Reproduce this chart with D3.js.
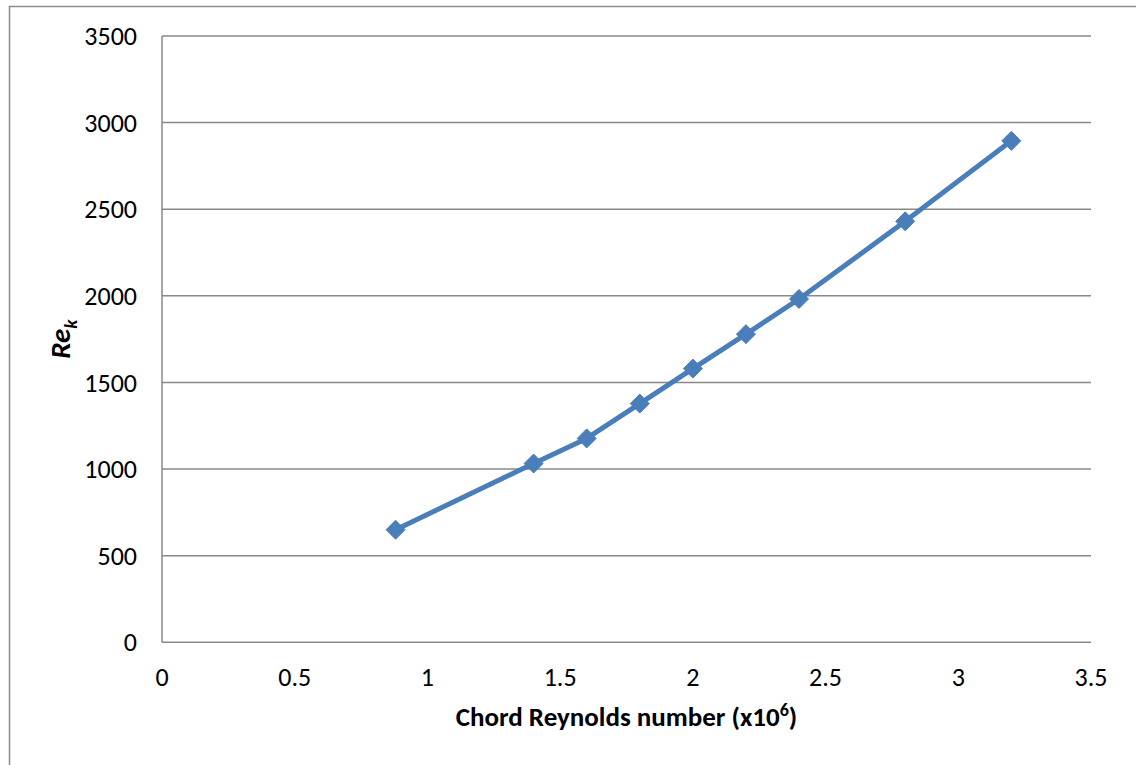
<!DOCTYPE html>
<html>
<head>
<meta charset="utf-8">
<script src="https://cdn.jsdelivr.net/npm/d3@7"></script>
<style>
  html, body { margin: 0; padding: 0; background: #fff; }
  svg { display: block; }
  text { font-family: Carlito, Calibri, "Liberation Sans", Arial, sans-serif; fill: #000; }
</style>
</head>
<body>
<svg id="chart" width="1136" height="765"></svg>
<script>
// Data
const reynolds = [0.88, 1.4, 1.6, 1.8, 2.0, 2.2, 2.4, 2.8, 3.2];
const rek      = [650, 1032, 1177, 1378, 1580, 1779, 1982, 2430, 2895];
const xTicks = [0, 0.5, 1, 1.5, 2, 2.5, 3, 3.5];
const yTicks = [0, 500, 1000, 1500, 2000, 2500, 3000, 3500];
const xTickLabels = ["0", "0.5", "1", "1.5", "2", "2.5", "3", "3.5"];
const yTickLabels = ["0", "500", "1000", "1500", "2000", "2500", "3000", "3500"];

(function () {
const svg = d3.select("#chart");
const pLeft = 162, pRight = 1091, pTop = 36, pBottom = 642.3;

const x = d3.scaleLinear().domain([0, 3.5]).range([pLeft, pRight]);
const y = d3.scaleLinear().domain([0, 3500]).range([pBottom, pTop]);

// outer chart border (left and top only visible)
svg.append("path")
  .attr("d", `M9.5,770 L9.5,6.5 L1140,6.5`)
  .attr("fill", "none").attr("stroke", "#8c8c8c").attr("stroke-width", 1.5);

// gridlines
svg.append("g").selectAll("line").data(yTicks.filter(d => d > 0)).join("line")
  .attr("x1", pLeft).attr("x2", pRight)
  .attr("y1", d => y(d)).attr("y2", d => y(d))
  .attr("stroke", "#888").attr("stroke-width", 1.5);

// axes lines
svg.append("line").attr("x1", pLeft).attr("x2", pLeft).attr("y1", pTop).attr("y2", pBottom)
  .attr("stroke", "#888").attr("stroke-width", 1.5);
svg.append("line").attr("x1", pLeft).attr("x2", pRight).attr("y1", pBottom).attr("y2", pBottom)
  .attr("stroke", "#888").attr("stroke-width", 1.5);

// y tick labels
svg.append("g").selectAll("text").data(yTicks).join("text")
  .attr("x", 137).attr("y", d => y(d)).attr("dy", "0.35em")
  .attr("text-anchor", "end").style("font-size", "26px")
  .text((d, i) => yTickLabels[i]);

// x tick labels
svg.append("g").selectAll("text").data(xTicks).join("text")
  .attr("x", d => x(d)).attr("y", 686)
  .attr("text-anchor", "middle").style("font-size", "26px")
  .text((d, i) => xTickLabels[i]);

// x title
const xt = svg.append("text").attr("x", (pLeft + pRight) / 2).attr("y", 726)
  .attr("text-anchor", "middle").style("font-size", "27px").style("font-weight", "bold");
xt.append("tspan").text("Chord Reynolds number (x10");
xt.append("tspan").attr("dy", -10).style("font-size", "18px").text("6");
xt.append("tspan").attr("dy", 10).text(")");

// y title
const yt = svg.append("text")
  .attr("transform", `translate(70,${(pTop + pBottom) / 2}) rotate(-90)`)
  .attr("text-anchor", "middle").style("font-size", "29px").style("font-weight", "bold").style("font-style", "italic");
yt.append("tspan").text("Re");
yt.append("tspan").attr("dy", 7).style("font-size", "19px").text("k");

// line
const pts = reynolds.map((d, i) => [d, rek[i]]);
svg.append("path").datum(pts)
  .attr("d", d3.line().x(d => x(d[0])).y(d => y(d[1])))
  .attr("fill", "none").attr("stroke", "#4a7ebb").attr("stroke-width", 5)
  .attr("stroke-linejoin", "round");

// markers (diamonds)
svg.append("g").selectAll("path").data(pts).join("path")
  .attr("transform", d => `translate(${x(d[0])},${y(d[1])})`)
  .attr("d", "M0,-9.5 L9.5,0 L0,9.5 L-9.5,0 Z")
  .attr("fill", "#4a7ebb").attr("stroke", "#4a7ebb").attr("stroke-width", 1);
})();
</script>
</body>
</html>
